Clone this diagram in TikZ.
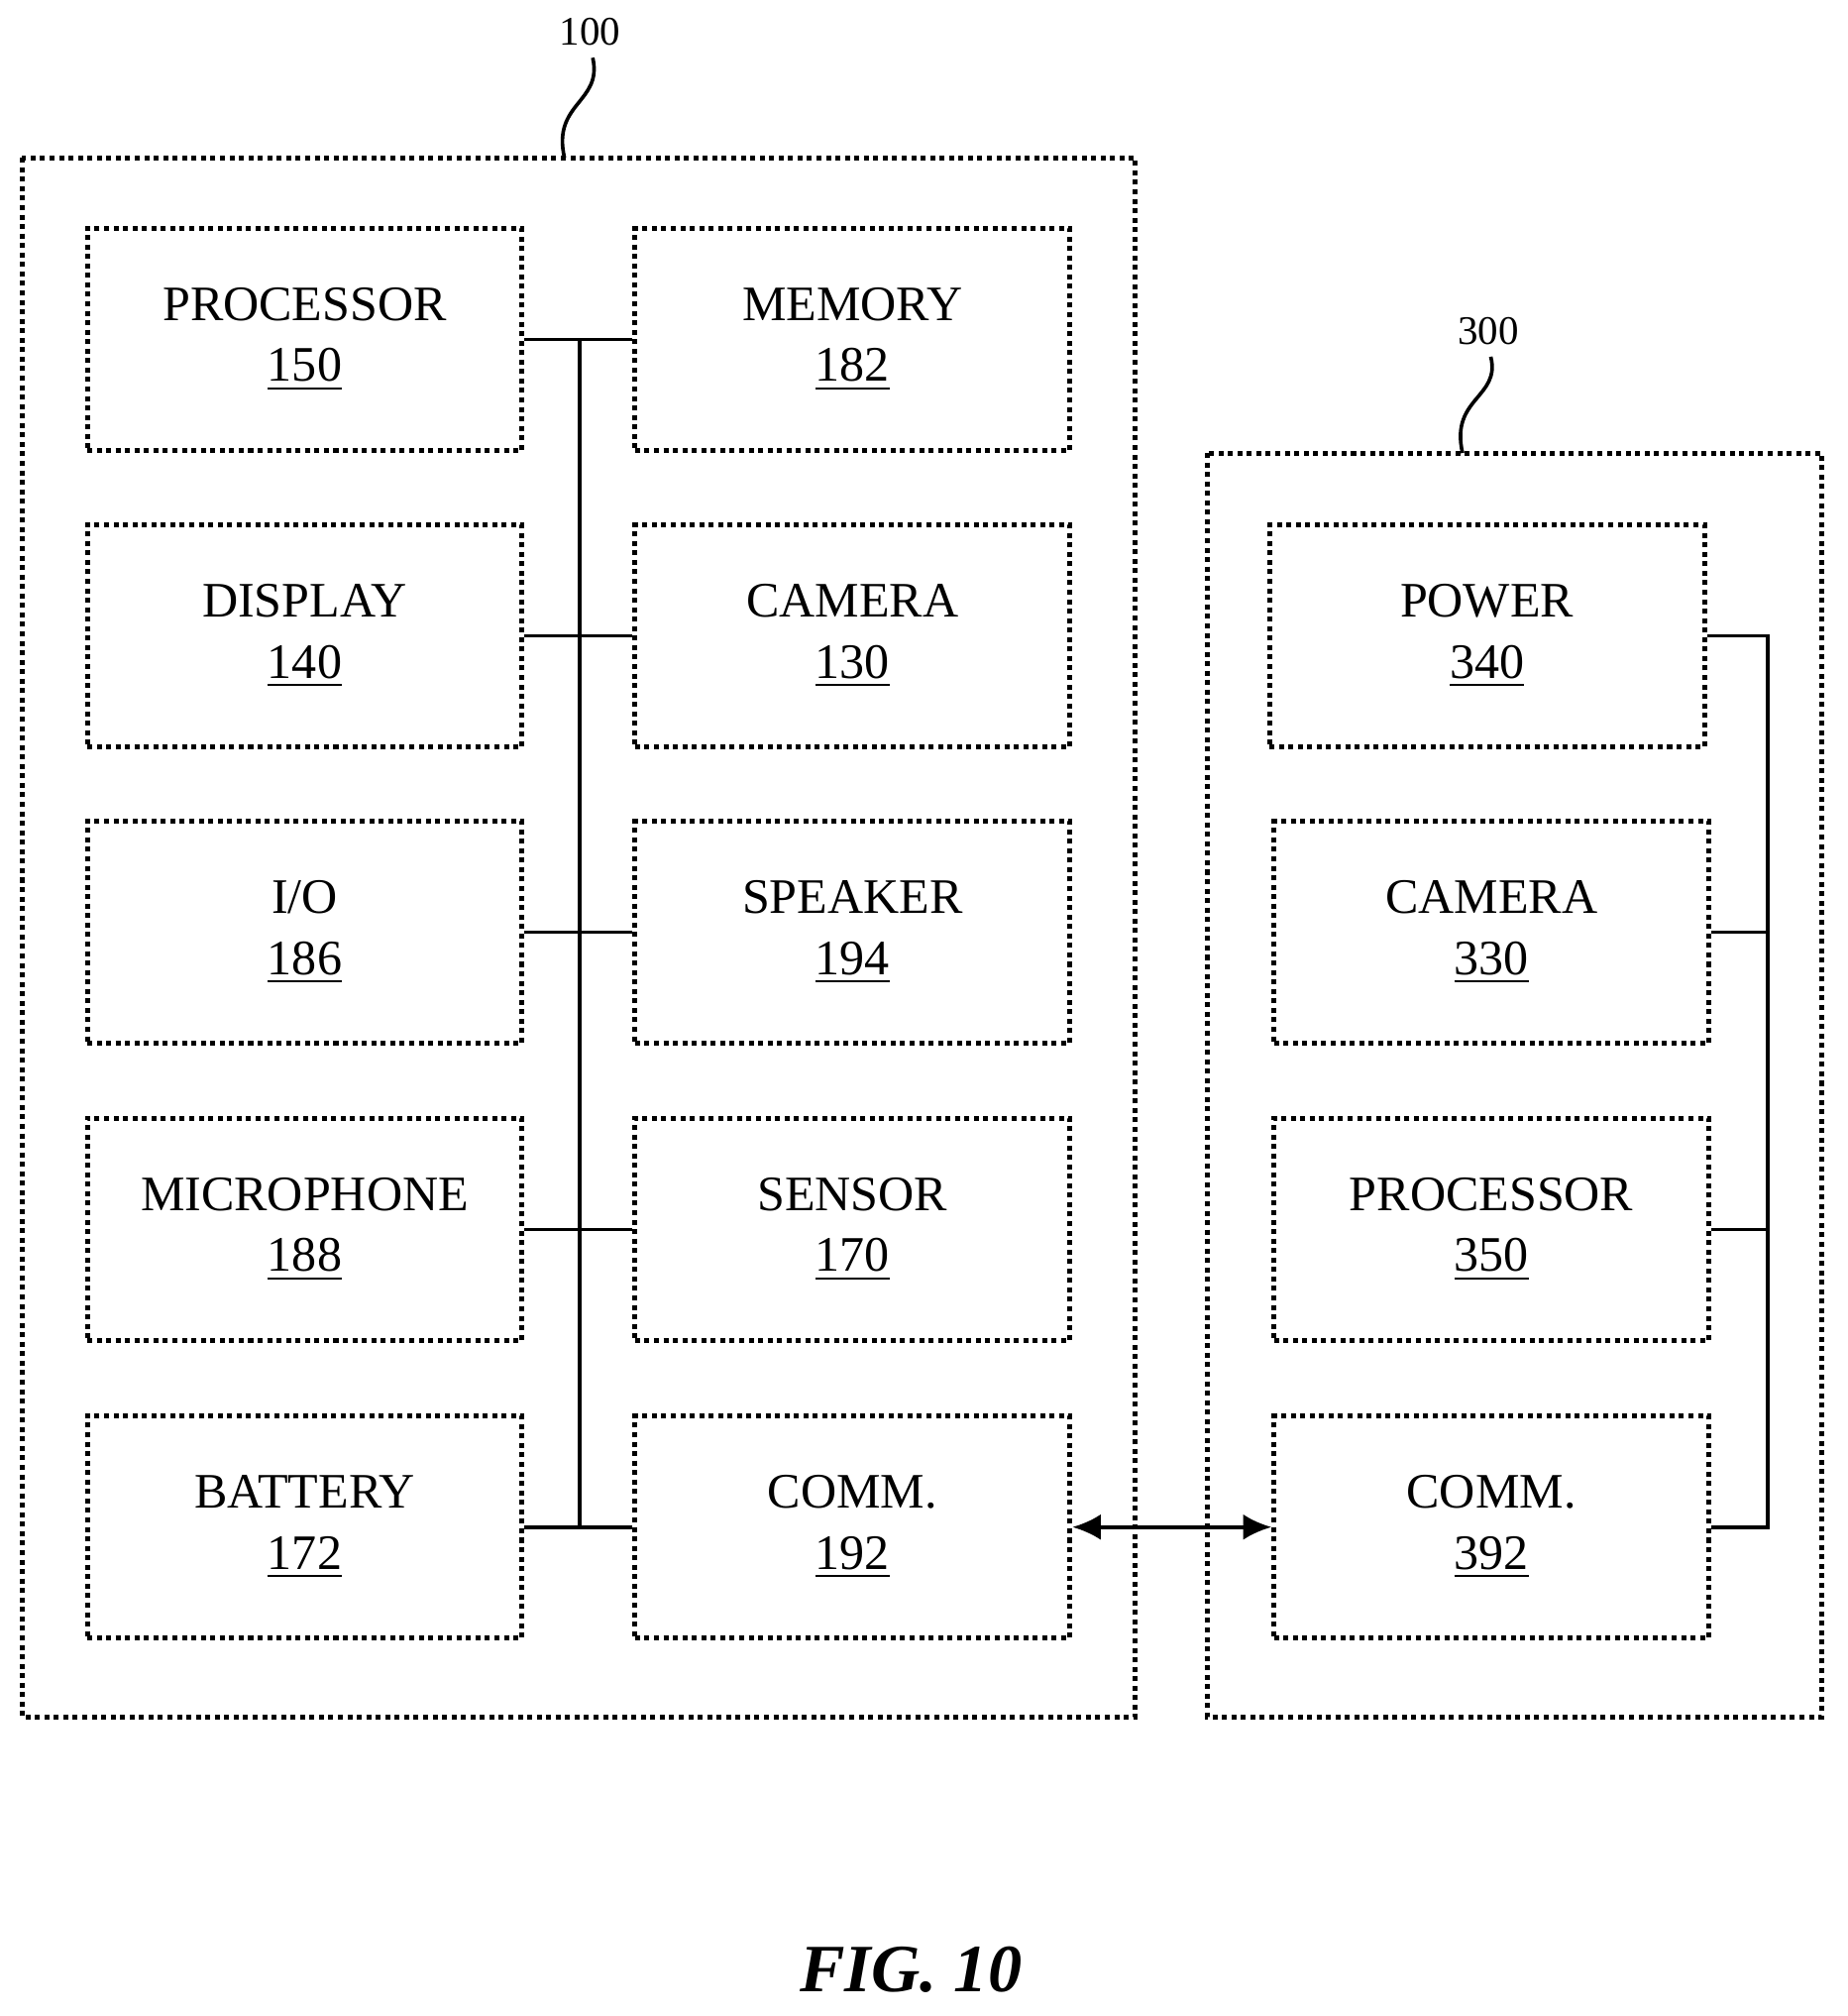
\documentclass[tikz,border=0pt]{standalone}
\usepackage{fontspec}
\setmainfont{Liberation Serif}
\usetikzlibrary{arrows.meta}
\begin{document}
\begin{tikzpicture}[x=1cm, y=-1cm]
  \tikzstyle{unit} = [rectangle, draw, densely dotted, line width=1.1pt, minimum width=3.39cm, minimum height=1.73cm, align=center, font=\fontsize{11}{13.5}\selectfont]
  \tikzstyle{frame} = [draw, densely dotted, line width=1.1pt]
  \tikzstyle{bus} = [draw, line width=0.8pt]
  \useasboundingbox (0,0) rectangle (14.4,15.71);

  % device 100
  \draw[frame] (0.17,1.23) rectangle (8.85,13.38);
  \node (l100) at (4.6,0.25) {\small 100};
  \draw[bus] (4.62,0.45) .. controls (4.7,0.8) and (4.3,0.8) .. (4.4,1.23);

  \node [unit] (proc) at (2.375,2.645) {PROCESSOR\\\underline{150}};
  \node [unit] (mem) at (6.645,2.645) {MEMORY\\\underline{182}};
  \node [unit] (disp) at (2.375,4.955) {DISPLAY\\\underline{140}};
  \node [unit] (cam) at (6.645,4.955) {CAMERA\\\underline{130}};
  \node [unit] (io) at (2.375,7.265) {I/O\\\underline{186}};
  \node [unit] (spk) at (6.645,7.265) {SPEAKER\\\underline{194}};
  \node [unit] (mic) at (2.375,9.58) {MICROPHONE\\\underline{188}};
  \node [unit] (sens) at (6.645,9.58) {SENSOR\\\underline{170}};
  \node [unit] (batt) at (2.375,11.9) {BATTERY\\\underline{172}};
  \node [unit] (comm) at (6.645,11.9) {COMM.\\\underline{192}};

  \coordinate (bustop) at (4.52,2.645);
  \coordinate (busbot) at (4.52,11.9);
  \draw[bus] (bustop) -- (busbot);
  \foreach \a/\b in {proc/mem, disp/cam, io/spk, mic/sens, batt/comm}
    \draw[bus] (\a.east) -- (\b.west);

  % device 300
  \draw[frame] (9.41,3.53) rectangle (14.2,13.38);
  \node (l300) at (11.6,2.58) {\small 300};
  \draw[bus] (11.62,2.78) .. controls (11.7,3.1) and (11.3,3.1) .. (11.4,3.53);

  \node [unit] (pwr) at (11.59,4.955) {POWER\\\underline{340}};
  \node [unit] (cam2) at (11.625,7.265) {CAMERA\\\underline{330}};
  \node [unit] (proc2) at (11.625,9.58) {PROCESSOR\\\underline{350}};
  \node [unit] (comm2) at (11.625,11.9) {COMM.\\\underline{392}};

  \coordinate (rtop) at (13.78,4.955);
  \coordinate (rbot) at (13.78,11.9);
  \draw[bus] (pwr.east) -- (rtop) -- (rbot) -- (comm2.east);
  \draw[bus] (cam2.east) -- (cam2.east -| rtop);
  \draw[bus] (proc2.east) -- (proc2.east -| rtop);

  \draw[bus, {Latex[length=2.2mm,width=2mm]}-{Latex[length=2.2mm,width=2mm]}] (comm.east) -- (comm2.west);

  \node (fig) at (7.1,15.35) {\fontsize{15}{18}\selectfont\bfseries\itshape FIG. 10};
\end{tikzpicture}
\end{document}
